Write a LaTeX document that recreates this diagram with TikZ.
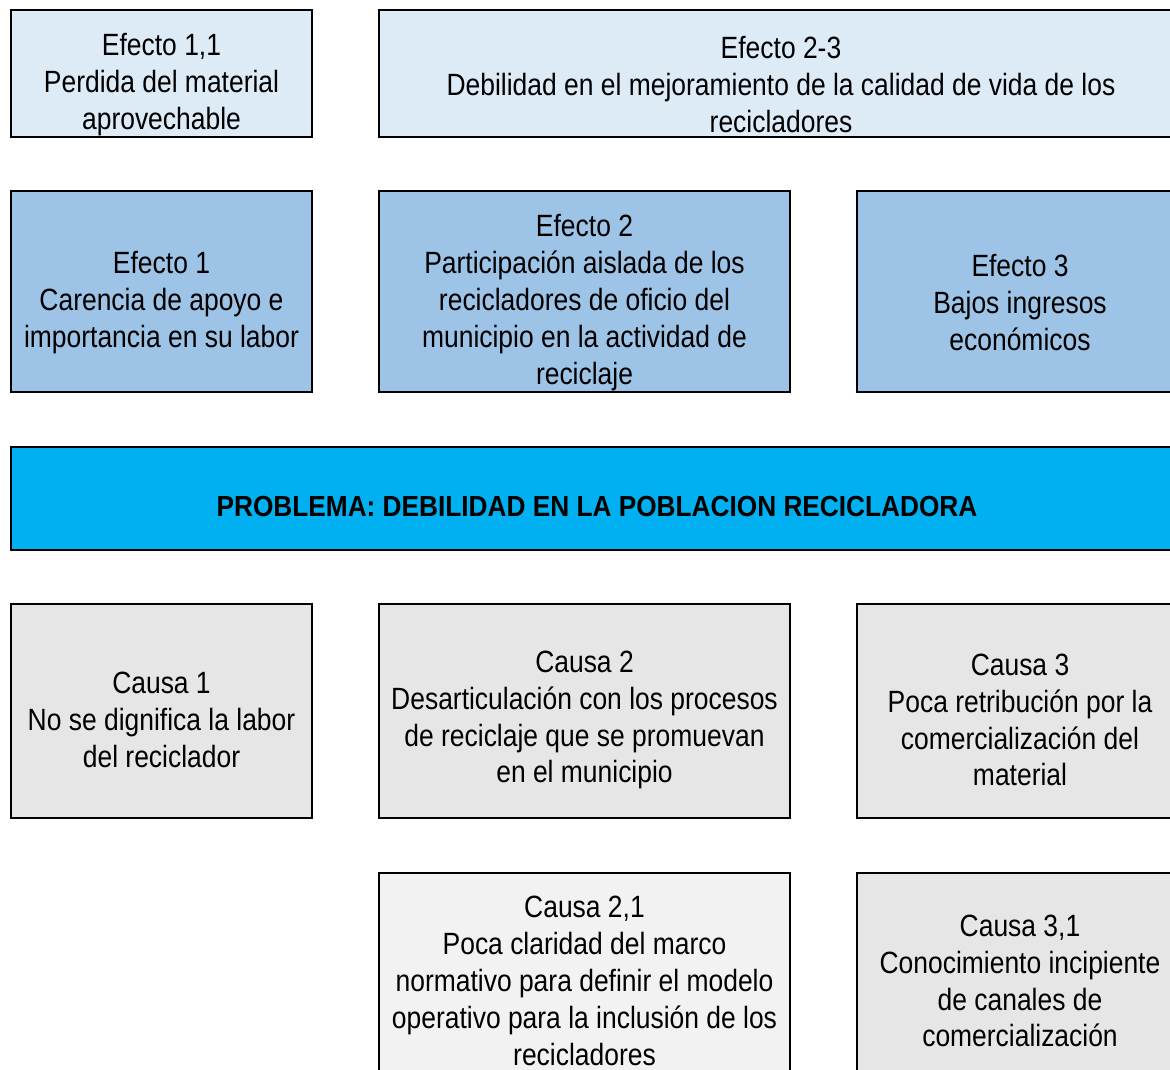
\documentclass[tikz,border=0pt]{standalone}
\usepackage{fontspec}
\setmainfont{Liberation Sans}[FakeStretch=0.86]
\newfontfamily\probfont{Liberation Sans}[FakeStretch=0.905]
\usetikzlibrary{positioning}

\definecolor{efectoclaro}{HTML}{DDEBF7}
\definecolor{efecto}{HTML}{9DC3E6}
\definecolor{problema}{HTML}{00B0F0}
\definecolor{causa}{HTML}{E6E6E6}
\definecolor{causaclara}{HTML}{F2F2F2}

\begin{document}
\begin{tikzpicture}[
  x=0.02cm, y=-0.02cm,
  box/.style={draw=black, line width=1.1pt, inner sep=0pt},
  txt/.style={align=center, font=\fontsize{17.5}{21}\selectfont, inner sep=0pt},
  probtxt/.style={font=\probfont\bfseries\fontsize{16.5}{20}\selectfont, inner sep=0pt}
]
\useasboundingbox (0,0) rectangle (1170,1069);
\clip (0,0) rectangle (1170,1069);

% efectos indirectos
\node[box, fill=efectoclaro, minimum width=6.02cm, minimum height=2.54cm] (e11) at (161.5,73.5) {};
\node[txt] (e11t) at ([yshift=-0.22cm]e11.center) {Efecto 1,1\\Perdida del material\\aprovechable};
\node[box, fill=efectoclaro, minimum width=16.08cm, minimum height=2.54cm] (e23) at (781,73.5) {};
\node[txt] (e23t) at ([yshift=-0.22cm]e23.center) {Efecto 2-3\\Debilidad en el mejoramiento de la calidad de vida de los\\recicladores};

% efectos directos
\node[box, fill=efecto, minimum width=6.02cm, minimum height=4.02cm] (e1) at (161.5,291.5) {};
\node[txt] (e1t) at ([yshift=-0.22cm]e1.center) {Efecto 1\\Carencia de apoyo e\\importancia en su labor};
\node[box, fill=efecto, minimum width=8.22cm, minimum height=4.02cm] (e2) at (584.5,291.5) {};
\node[txt] (e2t) at ([yshift=-0.22cm]e2.center) {Efecto 2\\Participación aislada de los\\recicladores de oficio del\\municipio en la actividad de\\reciclaje};
\node[box, fill=efecto, minimum width=6.52cm, minimum height=4.02cm] (e3) at (1020,291.5) {};
\node[txt] (e3t) at ([yshift=-0.22cm]e3.center) {Efecto 3\\Bajos ingresos\\económicos};

% problema central
\node[box, fill=problema, minimum width=23.44cm, minimum height=2.06cm] (prob) at (597,498.5) {};
\node[probtxt] (probt) at ([yshift=-0.17cm]prob.center) {PROBLEMA: DEBILIDAD EN LA POBLACION RECICLADORA};

% causas directas
\node[box, fill=causa, minimum width=6.02cm, minimum height=4.28cm] (c1) at (161.5,711) {};
\node[txt] (c1t) at ([yshift=-0.18cm]c1.center) {Causa 1\\No se dignifica la labor\\del reciclador};
\node[box, fill=causa, minimum width=8.22cm, minimum height=4.28cm] (c2) at (584.5,711) {};
\node[txt] (c2t) at ([yshift=-0.18cm]c2.center) {Causa 2\\Desarticulación con los procesos\\de reciclaje que se promuevan\\en el municipio};
\node[box, fill=causa, minimum width=6.52cm, minimum height=4.28cm] (c3) at (1020,711) {};
\node[txt] (c3t) at ([yshift=-0.18cm]c3.center) {Causa 3\\Poca retribución por la\\comercialización del\\material};

% causas indirectas
\node[box, fill=causaclara, minimum width=8.22cm, minimum height=4.0cm] (c21) at (584.5,973) {};
\node[txt] (c21t) at ([yshift=-0.16cm]c21.center) {Causa 2,1\\Poca claridad del marco\\normativo para definir el modelo\\operativo para la inclusión de los\\recicladores};
\node[box, fill=causa, minimum width=6.52cm, minimum height=4.0cm] (c31) at (1020,973) {};
\node[txt] (c31t) at ([yshift=-0.16cm]c31.center) {Causa 3,1\\Conocimiento incipiente\\de canales de\\comercialización};

\end{tikzpicture}
\end{document}
